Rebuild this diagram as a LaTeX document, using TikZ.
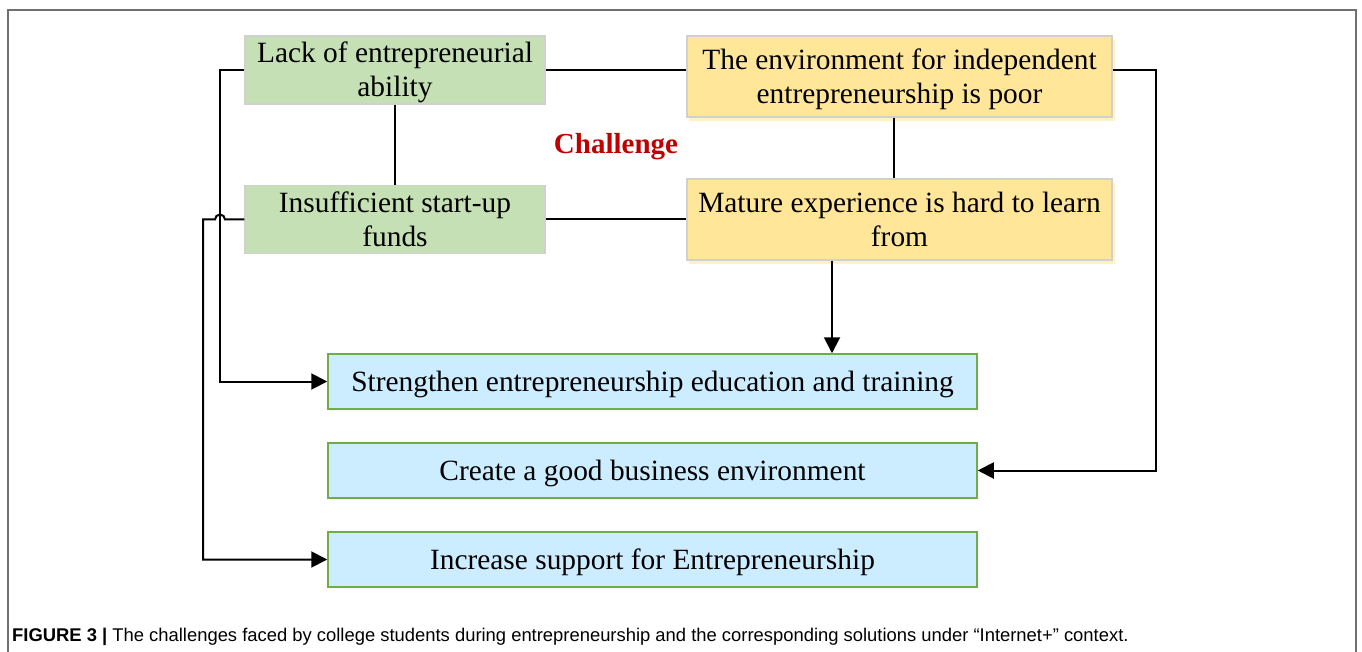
\documentclass[tikz,border=0pt]{standalone}
\usepackage{fontspec}
\setmainfont{Liberation Serif}
\newfontfamily\capfont{Liberation Sans}
\usetikzlibrary{arrows.meta,calc}
\definecolor{gfill}{HTML}{C5E0B4}
\definecolor{yfill}{HTML}{FFE699}
\definecolor{yshadow}{HTML}{FFF3C4}
\definecolor{bfill}{HTML}{CCECFF}
\definecolor{bborder}{HTML}{70AD47}
\definecolor{gborder}{HTML}{D0D0D0}
\definecolor{chred}{HTML}{C00000}
\definecolor{framegray}{HTML}{707070}
\newcommand\boxlbl[1]{\raisebox{-3pt}[\height][\depth]{\begin{tabular}{@{}c@{}}#1\end{tabular}}}
\tikzset{
  box/.style={draw=gborder, line width=1.5pt, inner sep=0pt, align=center,
    font=\fontsize{29.4}{34}\selectfont},
  greenbox/.style={box, fill=gfill, minimum width=300pt, minimum height=68pt},
  yellowbox/.style={box, fill=yfill, minimum width=425pt, minimum height=81pt},
  bluebox/.style={box, draw=bborder, fill=bfill, minimum width=649pt, minimum height=55pt},
  conn/.style={line width=2pt, draw=black},
  arr/.style={conn, -{Triangle[length=16pt,width=16pt]}},
}
\begin{document}
\begin{tikzpicture}[x=1pt,y=-1pt]
\useasboundingbox (0,0) rectangle (1362,652);
% frame
\draw[framegray, line width=1.8pt] (8,652) -- (8,10) -- (1356,10) -- (1356,652);
% shadows of yellow boxes
\fill[yshadow] (689,40) rectangle (1115,121);
\fill[yshadow] (689,183) rectangle (1115,264);
% nodes
\node[greenbox] (g1) at (395,70) {\boxlbl{Lack of entrepreneurial\\ability}};
\node[greenbox] (g2) at (395,219.5) {\boxlbl{Insufficient start-up\\funds}};
\node[yellowbox] (y1) at (899.5,76.5) {\boxlbl{The environment for independent\\entrepreneurship is poor}};
\node[yellowbox] (y2) at (899.5,219.5) {\boxlbl{Mature experience is hard to learn\\from}};
\node[bluebox] (b1) at (652.5,381.5) {\boxlbl{Strengthen entrepreneurship education and training}};
\node[bluebox] (b2) at (652.5,470.5) {\boxlbl{Create a good business environment}};
\node[bluebox] (b3) at (652.5,559.5) {\boxlbl{Increase support for Entrepreneurship}};
\node[font=\fontsize{29}{32}\selectfont\bfseries, text=chred] (ch) at (616,147) {Challenge};
% helper coordinates
\coordinate (lx) at (220,0);
\coordinate (lx2) at (203,0);
\coordinate (rx) at (1156,0);
\coordinate (vy1) at (894,0);
\coordinate (vy2) at (832,0);
\coordinate (yl) at (0,70);
% connectors
\draw[conn] (g1.south) -- (g1.south |- g2.north);
\draw[conn] (g1.east |- yl) -- (y1.west |- yl);
\draw[conn] (g2.east) -- (y2.west);
\draw[conn] (y1.south -| vy1) -- (y2.north -| vy1);
\draw[arr] (y2.south -| vy2) -- (b1.north -| vy2);
\draw[arr] (g1.west |- yl) -- (lx |- yl) |- (b1.west);
\draw[arr] (g2.west) -- ($(g2.west -| lx)+(5,0)$) arc (0:-180:5) -- (g2.west -| lx2) |- (b3.west);
\draw[arr] (y1.east |- yl) -- (rx |- yl) |- (b2.east);
% caption
\node[anchor=base west, inner sep=0pt, font=\capfont\fontsize{18.4}{20}\selectfont] (cap) at (12,641)
  {\textbf{FIGURE 3 |} The challenges faced by college students during entrepreneurship and the corresponding solutions under “Internet+” context.};
\end{tikzpicture}
\end{document}
